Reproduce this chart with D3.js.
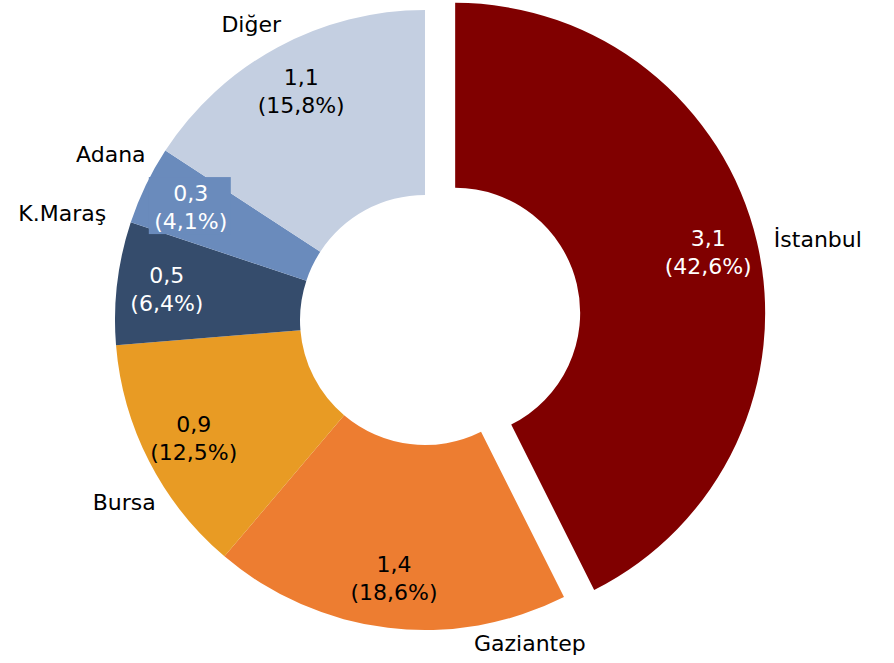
<!DOCTYPE html>
<html lang="tr">
<head>
<meta charset="utf-8">
<title>Donut</title>
<script src="https://d3js.org/d3.v7.min.js"></script>
<style>
  body { margin: 0; background: #fff; }
  text { font-family: "DejaVu Sans", sans-serif; font-size: 22px; }
</style>
</head>
<body>
<script>
// data
var cities = ["İstanbul", "Gaziantep", "Bursa", "K.Maraş", "Adana", "Diğer"];
var values = [3.1, 1.4, 0.9, 0.5, 0.3, 1.1];
var shares = [42.6, 18.6, 12.5, 6.4, 4.1, 15.8];

var colors = ["#800000", "#ED7D31", "#E89B24", "#354C6C", "#6A8BBC", "#C4CFE1"];
var valueInk = ["#fff", "#000", "#000", "#fff", "#fff", "#000"];
// outer label placement: angle shift from slice middle (deg) and radius
var labelShift = [1.9, -24.8, -4.1, 9.5, 2, -2];
var labelRad = [370, 340, 352, 378, 355, 343];

var width = 894, height = 663;
var cx = 425, cy = 320, outerR = 310, innerR = 125, explode = 31;

var loc = d3.formatLocale({decimal: ",", thousands: ".", grouping: [3], currency: ["", ""]});
var f1 = loc.format(".1f");

var rows = cities.map(function(c, i) {
    return {city: c, value: values[i], share: shares[i], i: i};
});

var pie = d3.pie().sort(null).value(function(d) { return d.share; })
    .startAngle(0).endAngle(2 * Math.PI);
var arc = d3.arc().innerRadius(innerR).outerRadius(outerR);

var svg = d3.select("body").append("svg")
    .attr("width", width).attr("height", height);

var g = svg.append("g").attr("transform", "translate(" + cx + "," + cy + ")");

var arcs = pie(rows);

function offset(d) {
    if (d.data.i !== 0) return [0, 0];
    var a = (d.startAngle + d.endAngle) / 2;
    return [explode * Math.sin(a), -explode * Math.cos(a)];
}
function polar(a, r, o) {
    return [o[0] + r * Math.sin(a), o[1] - r * Math.cos(a)];
}

g.selectAll("path.slice")
    .data(arcs)
    .enter().append("path")
    .attr("class", "slice")
    .attr("d", arc)
    .attr("fill", function(d) { return colors[d.data.i]; })
    .attr("transform", function(d) {
        var o = offset(d);
        return "translate(" + o[0] + "," + o[1] + ")";
    });

var labelR = 260;

// the Adana label box spills over its neighbours
var adana = arcs[4];
var ap = polar((adana.startAngle + adana.endAngle) / 2, labelR, offset(adana));
g.append("rect")
    .attr("x", ap[0] - 42).attr("y", ap[1] - 30)
    .attr("width", 82).attr("height", 57)
    .attr("fill", colors[4]);

var vl = g.selectAll("g.vlab")
    .data(arcs)
    .enter().append("g")
    .attr("class", "vlab")
    .attr("transform", function(d) {
        var p = polar((d.startAngle + d.endAngle) / 2, labelR, offset(d));
        return "translate(" + p[0] + "," + p[1] + ")";
    });

vl.append("text")
    .attr("y", -14)
    .attr("text-anchor", "middle")
    .attr("dominant-baseline", "central")
    .attr("fill", function(d) { return valueInk[d.data.i]; })
    .text(function(d) { return f1(d.data.value); });

vl.append("text")
    .attr("y", 14)
    .attr("text-anchor", "middle")
    .attr("dominant-baseline", "central")
    .attr("fill", function(d) { return valueInk[d.data.i]; })
    .text(function(d) { return "(" + f1(d.data.share) + "%)"; });

g.selectAll("text.cat")
    .data(arcs)
    .enter().append("text")
    .attr("class", "cat")
    .attr("text-anchor", "middle")
    .attr("dominant-baseline", "central")
    .attr("fill", "#000")
    .attr("transform", function(d) {
        var i = d.data.i;
        var a = (d.startAngle + d.endAngle) / 2 + labelShift[i] * Math.PI / 180;
        var p = polar(a, labelRad[i], offset(d));
        return "translate(" + p[0] + "," + p[1] + ")";
    })
    .text(function(d) { return d.data.city; });
</script>
</body>
</html>
